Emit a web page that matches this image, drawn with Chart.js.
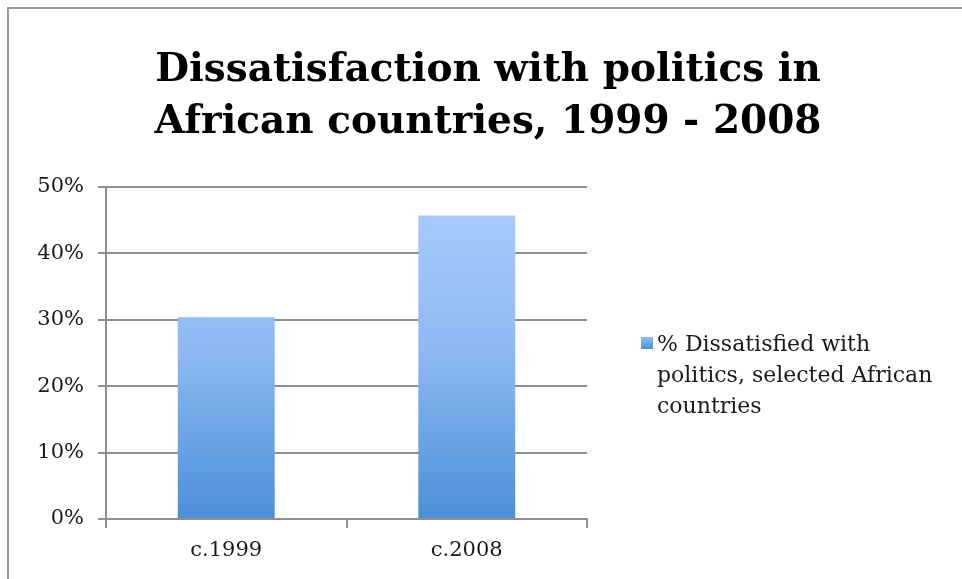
<!DOCTYPE html>
<html><head><meta charset="utf-8">
<script src="https://cdn.jsdelivr.net/npm/chart.js@4"></script>
<style>
html,body{margin:0;padding:0;background:#fff;overflow:hidden;}
#wrap{position:relative;width:962px;height:579px;overflow:hidden;}
#frame{position:absolute;left:7px;top:7px;width:955px;height:572px;border-top:2px solid #9a9a9a;border-left:2px solid #9a9a9a;box-sizing:border-box;pointer-events:none;}
canvas{position:absolute;left:0;top:0;}
</style></head>
<body><div id="wrap"><canvas id="c" width="962" height="579"></canvas><div id="frame"></div></div>
<script>
const categories = ['c.1999', 'c.2008'];
const seriesName = '% Dissatisfied with politics, selected African countries';
const legendLines = ['% Dissatisfied with', 'politics, selected African', 'countries'];
const values = [0.304, 0.457];
const titleLines = ['Dissatisfaction with politics in', 'African countries, 1999 - 2008'];
const yTicks = [0, 0.1, 0.2, 0.3, 0.4, 0.5];

const SERIF = '"DejaVu Serif", serif';
const TITLE_FONT = 'bold 39px "DejaVu Serif", serif';
const GRID = '#8e8e8e';

function barGradient(ctx) {
  const chart = ctx.chart;
  const ca = chart.chartArea;
  if (!ca) return '#7aaef0';
  const g = chart.ctx.createLinearGradient(0, ca.top, 0, ca.bottom);
  g.addColorStop(0, '#abcdfd');
  g.addColorStop(0.5, '#8cb9f3');
  g.addColorStop(1, '#4b8fd8');
  return g;
}

const decorPlugin = {
  id: 'decor',
  afterDraw(chart) {
    const c = chart.ctx;
    c.save();
    c.fillStyle = '#000';
    c.font = TITLE_FONT;
    c.textAlign = 'center';
    c.textBaseline = 'alphabetic';
    titleLines.forEach((t, i) => c.fillText(t, 488, 81 + i * 52));
    const g = c.createLinearGradient(0, 337, 0, 349);
    g.addColorStop(0, '#8fbcf5');
    g.addColorStop(1, '#4b8fd8');
    c.fillStyle = g;
    c.fillRect(641, 337, 12, 12);
    c.fillStyle = '#1a1a1a';
    c.font = '22px ' + SERIF;
    c.textAlign = 'left';
    legendLines.forEach((t, i) => c.fillText(t, 657, 351 + i * 31));
    c.restore();
  }
};

new Chart(document.getElementById('c'), {
  type: 'bar',
  data: {
    labels: categories,
    datasets: [{
      label: seriesName,
      data: values,
      backgroundColor: barGradient,
      borderWidth: 0,
      categoryPercentage: 1.0,
      barPercentage: 0.403
    }]
  },
  options: {
    responsive: false,
    animation: false,
    devicePixelRatio: 1,
    layout: { padding: { left: 14, right: 375, top: 187, bottom: 0 } },
    plugins: {
      legend: { display: false },
      tooltip: { enabled: false },
      title: { display: false }
    },
    scales: {
      x: {
        offset: true,
        grid: { display: true, drawOnChartArea: false, drawTicks: true, tickLength: 9, color: GRID, lineWidth: 2, offset: true },
        border: { display: true, color: GRID, width: 2 },
        ticks: { color: '#1a1a1a', font: { family: SERIF, size: 21 }, padding: 10 },
        afterFit(s) { s.height = 60; }
      },
      y: {
        min: 0, max: 0.5,
        afterBuildTicks(s) { s.ticks = yTicks.map(v => ({ value: v })); },
        grid: { color: GRID, lineWidth: 2, drawTicks: true, tickLength: 8 },
        border: { display: true, color: GRID, width: 2 },
        ticks: { color: '#1a1a1a', font: { family: SERIF, size: 21 }, padding: 14,
          callback: v => Math.round(v * 100) + '%' },
        afterFit(s) { s.width = 92; }
      }
    }
  },
  plugins: [decorPlugin]
});
</script></body></html>
